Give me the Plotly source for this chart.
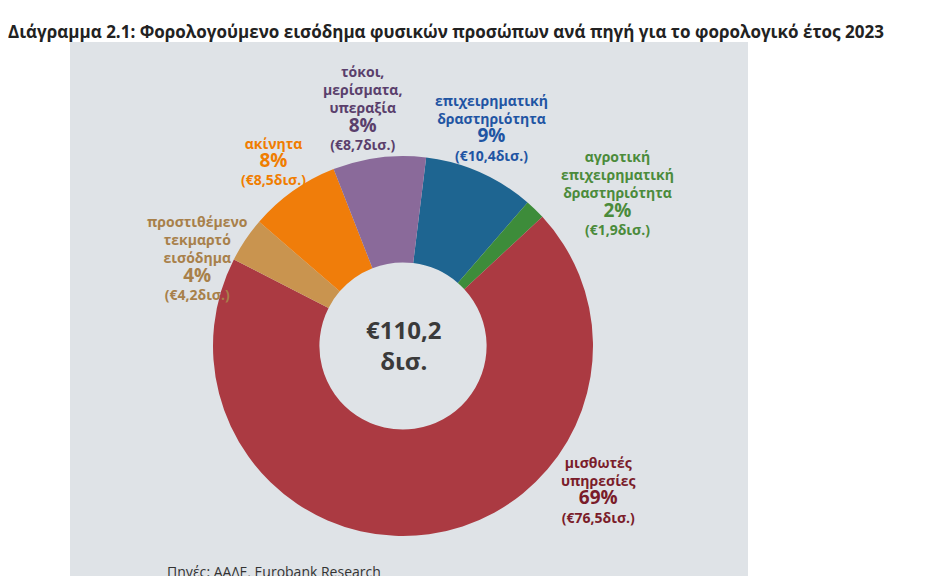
import plotly.graph_objects as go

labels = ["επιχειρηματική δραστηριότητα", "αγροτική επιχειρηματική δραστηριότητα", "μισθωτές υπηρεσίες",
          "προστιθέμενο τεκμαρτό εισόδημα", "ακίνητα", "τόκοι, μερίσματα, υπεραξία"]
values = [10.4, 1.9, 76.5, 4.2, 8.5, 8.7]
pcts = ["9%", "2%", "69%", "4%", "8%", "8%"]
amounts = ["(€10,4δισ.)", "(€1,9δισ.)", "(€76,5δισ.)", "(€4,2δισ.)", "(€8,5δισ.)", "(€8,7δισ.)"]
label_lines = ["επιχειρηματική<br>δραστηριότητα", "αγροτική<br>επιχειρηματική<br>δραστηριότητα",
               "μισθωτές<br>υπηρεσίες", "προστιθέμενο<br>τεκμαρτό<br>εισόδημα", "ακίνητα",
               "τόκοι,<br>μερίσματα,<br>υπεραξία"]
slice_colors = ["#1e6591", "#3d8c3a", "#ab3a42", "#c9944f", "#f07d0a", "#8a6a9a"]
text_colors = ["#1f55a3", "#4b8b3b", "#7a1c2a", "#a8804a", "#f07d00", "#5a3f6c"]
# label centre positions (pixels in the reference)
pos = [(492, 128), (617, 193), (598, 490), (197, 258), (273, 162), (362, 108)]

OFF = 8
W, H = 942 - 2 * OFF, 584 - 2 * OFF


def px(x):
    return (x - OFF) / W


def py(y):
    return 1 - (y - OFF) / H


fig = go.Figure(go.Pie(
    labels=labels, values=values, hole=0.44, sort=False, direction="clockwise",
    rotation=7, marker=dict(colors=slice_colors, line=dict(width=0)),
    textinfo="none", hoverinfo="label+value",
    domain=dict(x=[px(213), px(593)], y=[py(537), py(155)]), showlegend=False))

shapes = [dict(type="rect", xref="paper", yref="paper", x0=px(70), x1=px(748), y0=0, y1=py(42),
               fillcolor="#dfe3e7", line=dict(width=0), layer="below")]
ann = [dict(x=px(6), y=py(32), xref="paper", yref="paper", xanchor="left", yanchor="middle",
            text="<b>Διάγραμμα 2.1: Φορολογούμενο εισόδημα φυσικών προσώπων ανά πηγή για το φορολογικό έτος 2023</b>",
            showarrow=False, font=dict(size=17, color="#222222")),
       dict(x=px(165), y=py(571), xref="paper", yref="paper", xanchor="left", yanchor="middle",
            text="Πηγές: ΑΑΔΕ, Eurobank Research", showarrow=False, font=dict(size=14, color="#333333")),
       dict(x=px(403), y=py(345), xref="paper", yref="paper", xanchor="center", yanchor="middle",
            text="<b>€110,2<br>δισ.</b>", showarrow=False, font=dict(size=24, color="#3a3a3a"))]
for i in range(len(values)):
    x, y = pos[i]
    ann.append(dict(x=px(x), y=py(y), xref="paper", yref="paper", showarrow=False,
                    xanchor="center", yanchor="middle",
                    text=f"<b>{label_lines[i]}<br><span style='font-size:19px'>{pcts[i]}</span><br>{amounts[i]}</b>",
                    font=dict(size=14, color=text_colors[i]), align="center"))

fig.update_layout(width=W, height=H, margin=dict(l=0, r=0, t=0, b=0), paper_bgcolor="white",
                  font=dict(family="Open Sans"), shapes=shapes, annotations=ann)
fig.write_html("out.html")
